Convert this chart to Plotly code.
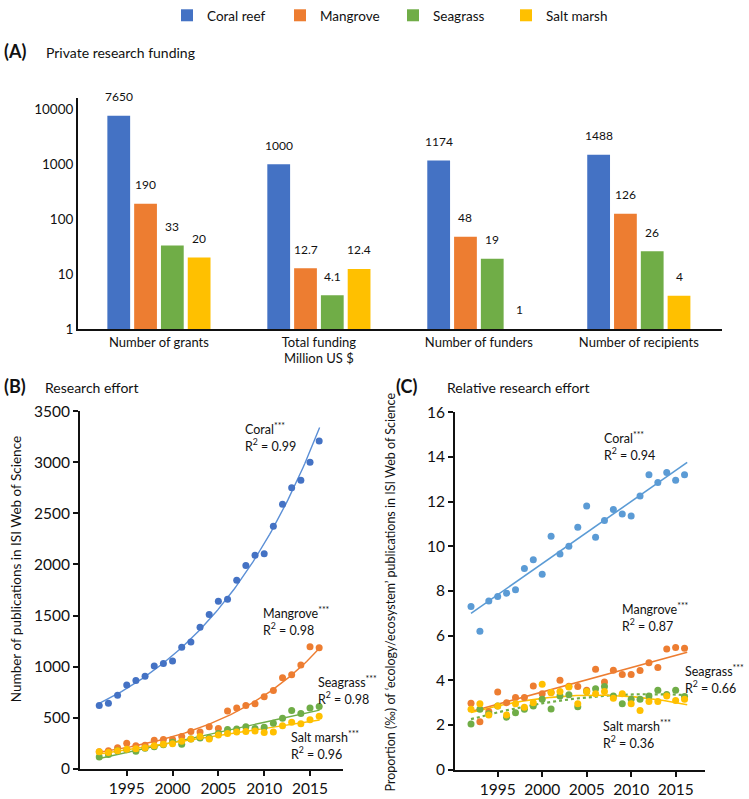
import numpy as np
import plotly.graph_objects as go

W, H = 749, 799
FONT = "Lato"

habitats = ["Coral reef", "Mangrove", "Seagrass", "Salt marsh"]
bar_colors = ["#4472C4", "#ED7D31", "#70AD47", "#FFC000"]

# Panel A: private research funding
metrics = ["Number of grants", "Total funding<br>Million US $", "Number of funders", "Number of recipients"]
coral_funding = [7650, 1000, 1174, 1488]
mangrove_funding = [190, 12.7, 48, 126]
seagrass_funding = [33, 4.1, 19, 26]
saltmarsh_funding = [20, 12.4, 1, 4]
funding_tick_vals = [1, 10, 100, 1000, 10000]
funding_tick_text = ["1", "10", "100", "1000", "10000"]

# Panel B: number of publications
years = [1992, 1993, 1994, 1995, 1996, 1997, 1998, 1999, 2000, 2001, 2002, 2003,
         2004, 2005, 2006, 2007, 2008, 2009, 2010, 2011, 2012, 2013, 2014, 2015, 2016]
coral_pubs = [620, 640, 720, 820, 865, 905, 1005, 1030, 1055, 1190, 1240, 1385,
              1510, 1640, 1660, 1845, 1990, 2090, 2105, 2375, 2590, 2750, 2825, 3000, 3210]
mangrove_pubs = [165, 175, 205, 250, 225, 230, 280, 285, 285, 315, 365, 360,
                 410, 395, 565, 595, 620, 635, 705, 765, 890, 920, 1015, 1195, 1185]
seagrass_pubs = [115, 140, 175, 185, 170, 200, 215, 235, 260, 240, 290, 300,
                 300, 345, 385, 390, 410, 395, 405, 445, 495, 570, 540, 595, 610]
saltmarsh_pubs = [165, 160, 175, 190, 195, 205, 225, 240, 245, 270, 290, 315,
                  290, 330, 345, 360, 365, 370, 355, 360, 420, 455, 440, 480, 515]

# Panel C: proportion (per mille)
coral_prop = [7.3, 6.2, 7.55, 7.75, 7.9, 8.05, 9.0, 9.4, 8.75, 10.45, 9.65, 10.0,
              10.85, 11.8, 10.4, 11.15, 11.65, 11.45, 11.35, 12.25, 13.2, 12.85, 13.3, 12.95, 13.2]
mangrove_prop = [2.97, 2.15, 2.6, 3.48, 3.0, 3.23, 3.23, 3.75, 3.4, 3.45, 4.0, 3.74,
                 3.72, 3.55, 4.5, 3.92, 4.45, 4.26, 4.26, 4.44, 4.79, 4.57, 5.4, 5.47, 5.44]
seagrass_prop = [2.05, 2.7, 2.5, 2.85, 2.35, 2.55, 2.7, 2.85, 3.15, 2.72, 3.3, 3.35,
                 2.82, 3.5, 3.62, 3.72, 3.3, 2.95, 3.15, 3.15, 3.3, 3.56, 3.36, 3.56, 3.28]
saltmarsh_prop = [2.7, 2.95, 2.45, 2.85, 2.45, 2.95, 2.8, 3.0, 3.82, 3.45, 3.5, 3.7,
                  2.95, 3.5, 3.4, 3.5, 3.2, 3.4, 2.95, 2.65, 3.05, 3.05, 3.3, 3.1, 3.15]

b_labels = [("Coral", "0.99"), ("Mangrove", "0.98"), ("Seagrass", "0.98"), ("Salt marsh", "0.96")]
c_labels = [("Coral", "0.94"), ("Mangrove", "0.87"), ("Seagrass", "0.66"), ("Salt marsh", "0.36")]


def px(x):
    return x / W


def py(y):
    return 1 - y / H


fig = go.Figure()

# ---------- Panel A ----------
BARGAP = 0.33
funding = [coral_funding, mangrove_funding, seagrass_funding, saltmarsh_funding]
xcat = list(range(len(metrics)))
for k, (name, vals) in enumerate(zip(habitats, funding)):
    fig.add_trace(go.Bar(x=xcat, y=vals, name=name, marker_color=bar_colors[k],
                         marker_line_width=0, xaxis="x", yaxis="y", showlegend=True))

annotations = []
slot = (1 - BARGAP) / 4
for k, vals in enumerate(funding):
    for i, v in enumerate(vals):
        annotations.append(dict(x=i + (k - 1.5) * slot, y=np.log10(v), xref="x", yref="y",
                                text="{:g}".format(v), showarrow=False, yshift=19,
                                font=dict(family=FONT, size=12, color="#111")))

# ---------- Panel B ----------
yrs = np.array(years, dtype=float)
pub_series = [coral_pubs, mangrove_pubs, seagrass_pubs, saltmarsh_pubs]
b_fit_kind = ["exp", "exp", "lin", "lin"]
b_line_colors = ["#5B8FD6", "#ED7D31", "#70AD47", "#FFC000"]
xs = np.linspace(1992, 2016.05, 120)
for k, vals in enumerate(pub_series):
    v = np.array(vals, dtype=float)
    if b_fit_kind[k] == "exp":
        c = np.polyfit(yrs - 1992, np.log(v), 1)
        ys = np.exp(np.polyval(c, xs - 1992))
    else:
        c = np.polyfit(yrs - 1992, v, 1)
        ys = np.polyval(c, xs - 1992)
    fig.add_trace(go.Scatter(x=xs, y=ys, mode="lines", line=dict(color=b_line_colors[k], width=1.4),
                             xaxis="x2", yaxis="y2", showlegend=False, hoverinfo="skip"))
for k, vals in enumerate(pub_series):
    fig.add_trace(go.Scatter(x=years, y=vals, mode="markers",
                             marker=dict(color=bar_colors[k], size=7),
                             xaxis="x2", yaxis="y2", showlegend=False))

# ---------- Panel C ----------
xs_c = np.linspace(1992, 2016.3, 120)
prop_series = [coral_prop, mangrove_prop, seagrass_prop, saltmarsh_prop]
c_colors = ["#5B9BD5", "#ED7D31", "#70AD47", "#FFC000"]
c_fit_deg = [1, 1, 2, 2]
c_dash = ["solid", "solid", "dot", "solid"]
for k, vals in enumerate(prop_series):
    v = np.array(vals, dtype=float)
    c = np.polyfit(yrs - 1992, v, c_fit_deg[k])
    ys = np.polyval(c, xs_c - 1992)
    fig.add_trace(go.Scatter(x=xs_c, y=ys, mode="lines",
                             line=dict(color=c_colors[k], width=1.6 if c_dash[k] == "solid" else 2.2, dash=c_dash[k]),
                             xaxis="x3", yaxis="y3", showlegend=False, hoverinfo="skip"))
for k, vals in enumerate(prop_series):
    fig.add_trace(go.Scatter(x=years, y=vals, mode="markers",
                             marker=dict(color=c_colors[k], size=7),
                             xaxis="x3", yaxis="y3", showlegend=False))


# ---------- text annotations ----------
def txt(x, y, s, size=12, bold=False, xanchor="left", yanchor="middle"):
    annotations.append(dict(x=px(x), y=py(y), xref="paper", yref="paper", text=s, showarrow=False,
                            xanchor=xanchor, yanchor=yanchor, align="left",
                            font=dict(family=FONT, size=size, color="#111",
                                      weight="bold" if bold else "normal")))


txt(2, 35, "(A)", 18, True)
txt(44, 37, "Private research funding", 14)
txt(2, 381, "(B)", 18, True)
txt(43, 382, "Research effort", 14)
txt(394, 381, "(C)", 18, True)
txt(445, 382, "Relative research effort", 14)

b_pos = [(243, 434), (261, 624), (316, 695), (289, 751)]
for (name, r2), (x, y) in zip(b_labels, b_pos):
    txt(x, y, name + "<sup>***</sup><br>R<sup>2</sup> = " + r2, 12.5)
c_pos = [(602, 443), (620, 619), (683, 683), (601, 740)]
for (name, r2), (x, y) in zip(c_labels, c_pos):
    txt(x, y, name + "<sup>***</sup><br>R<sup>2</sup> = " + r2, 12.5)

annotations.append(dict(x=px(16), y=py(570), xref="paper", yref="paper",
                        text="Number of publications in ISI Web of Science", showarrow=False,
                        textangle=-90, xanchor="center", yanchor="middle",
                        font=dict(family=FONT, size=13.5, color="#111")))
annotations.append(dict(x=px(390), y=py(594), xref="paper", yref="paper",
                        text="Proportion (‰) of \u2018ecology/ecosystem\u2019 publications in ISI Web of Science",
                        showarrow=False, textangle=-90, xanchor="center", yanchor="middle",
                        font=dict(family=FONT, size=12.5, color="#111")))

axis_common = dict(showline=True, linecolor="#111", linewidth=2, showgrid=False, zeroline=False)
tick_small = dict(family=FONT, size=13.5, color="#111")
tick_big = dict(family=FONT, size=15.5, color="#111")

fig.update_layout(
    width=W, height=H, margin=dict(l=0, r=0, t=0, b=0),
    paper_bgcolor="white", plot_bgcolor="white",
    barmode="group", bargap=BARGAP, bargroupgap=0.15,
    font=dict(family=FONT, size=12, color="#111"),
    legend=dict(orientation="h", x=px(167), y=py(-18), xanchor="left", yanchor="top",
                entrywidth=68, entrywidthmode="pixels",
                font=dict(family=FONT, size=13.5, color="#111"), itemclick=False),
    xaxis=dict(domain=[px(78), px(722)], range=[-0.506, 3.52], tickvals=xcat, ticktext=metrics,
               ticks="", anchor="y", tickfont=dict(family=FONT, size=13, color="#111"), **axis_common),
    yaxis=dict(domain=[py(322), py(84)], type="log", range=[0, 4.2], tickvals=funding_tick_vals,
               ticktext=funding_tick_text, ticks="", anchor="x", tickfont=tick_small, **axis_common),
    xaxis2=dict(domain=[px(80), px(343)], range=[1989.9, 2018.6], tickvals=[1995, 2000, 2005, 2010, 2015],
                ticks="outside", ticklen=5, tickwidth=1.5, tickcolor="#111", anchor="y2",
                tickfont=tick_big, **axis_common),
    yaxis2=dict(domain=[py(776), py(407)], range=[0, 3500], dtick=500,
                ticks="outside", ticklen=5, tickwidth=1.5, tickcolor="#111", anchor="x2",
                tickfont=tick_big, **axis_common),
    xaxis3=dict(domain=[px(455), px(705)], range=[1990.2, 2018.3], tickvals=[1995, 2000, 2005, 2010, 2015],
                ticks="outside", ticklen=5, tickwidth=1.5, tickcolor="#111", anchor="y3",
                tickfont=tick_big, **axis_common),
    yaxis3=dict(domain=[py(777), py(408)], range=[0, 16], dtick=2,
                ticks="outside", ticklen=5, tickwidth=1.5, tickcolor="#111", anchor="x3",
                tickfont=tick_big, **axis_common),
    annotations=annotations,
)

fig.write_html("out.html", config={"displayModeBar": False},
               post_script="document.body.style.margin='0px';document.body.style.overflow='hidden';")
